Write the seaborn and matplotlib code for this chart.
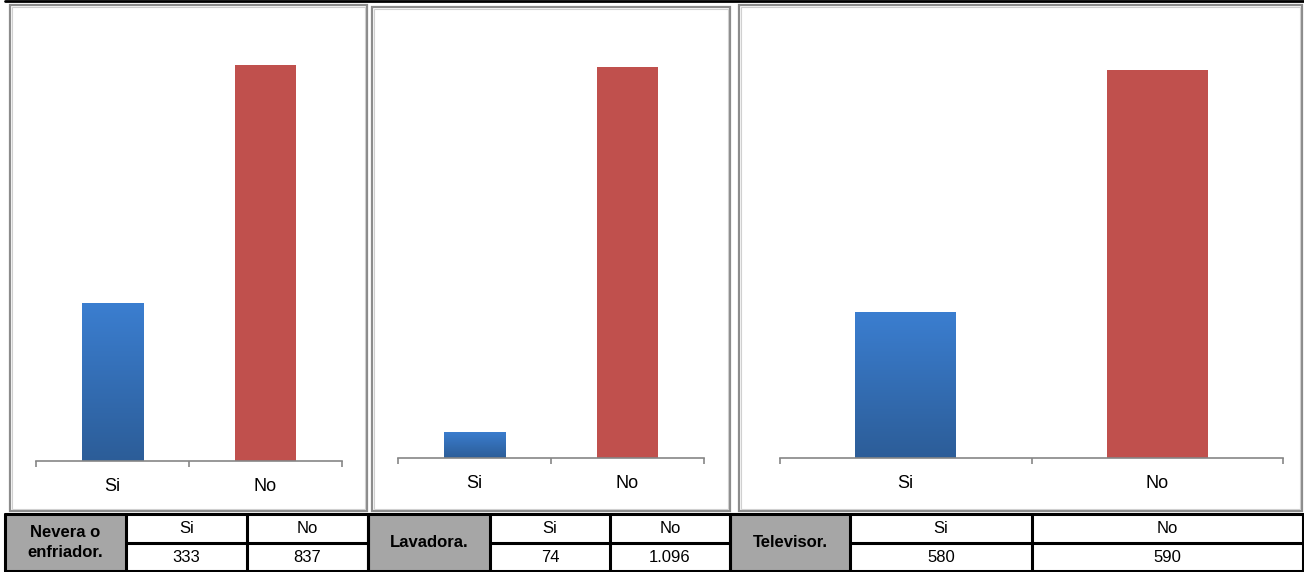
import seaborn as sns
import matplotlib.pyplot as plt
import pandas as pd
import numpy as np
from matplotlib.patches import Rectangle
from matplotlib.lines import Line2D

# Tenencia de electrodomesticos en los hogares (Si / No)
categories = ["Si", "No"]
item_labels = ["Nevera o\nenfriador.", "Lavadora.", "Televisor."]

nevera = [333, 837]
lavadora = [74, 1096]
televisor = [580, 590]
# the televisor chart in the source does not follow its own table, bars
televisor_bars = [222, 590]

bar_values = [nevera, lavadora, televisor_bars]
table_values = [nevera, lavadora, televisor]
y_max = [911, 1200, 651]

sns.set_style("white")
plt.rcParams['font.family'] = ['Liberation Sans', 'DejaVu Sans']
plt.rcParams['text.color'] = 'black'

W, H = 1304, 572
fig = plt.figure(figsize=(W / 100, H / 100), dpi=100)
fig.patch.set_facecolor("white")


def box(x0, y0, x1, y1):
    # pixel box (top-left origin) -> figure fraction rect
    return [x0 / W, 1 - y1 / H, (x1 - x0) / W, (y1 - y0) / H]


# panel frames and axes areas (pixels)
frames = [(10, 5, 367, 511), (372, 7, 730, 511), (739, 5, 1302, 511)]
plot_areas = [(36, 30, 342, 461), (398, 30, 704, 458), (780, 30, 1283, 458)]

blue_top, blue_bottom = np.array([59, 126, 208]) / 255, np.array([44, 93, 152]) / 255
red = "#c0504d"

for fr in frames:
    x0, y0, x1, y1 = fr
    fig.add_artist(Rectangle((x0 / W, 1 - y1 / H), (x1 - x0) / W, (y1 - y0) / H,
                             transform=fig.transFigure, fill=False,
                             edgecolor="#8c8c8c", lw=1.6))
    fig.add_artist(Rectangle(((x0 + 2) / W, 1 - (y1 - 2) / H), (x1 - x0 - 4) / W,
                             (y1 - y0 - 4) / H, transform=fig.transFigure,
                             fill=False, edgecolor="#d0d0d0", lw=0.8))

# black rule along the top
fig.add_artist(Line2D([5 / W, 1], [1 - 1.2 / H, 1 - 1.2 / H], transform=fig.transFigure,
                      color="black", lw=2))

for i, area in enumerate(plot_areas):
    ax = fig.add_axes(box(*area))
    df = pd.DataFrame({"Respuesta": categories, "Hogares": bar_values[i]})
    sns.barplot(data=df, x="Respuesta", y="Hogares", hue="Respuesta",
                palette=[blue_bottom, red], width=0.4, legend=False, ax=ax,
                saturation=1, linewidth=0)

    # vertical gradient on the "Si" bar
    p = ax.patches[0]
    bx, by = p.get_x(), p.get_y()
    bw, bh = p.get_width(), p.get_height()
    grad = np.linspace(0, 1, 256)[:, None, None]
    img = blue_top * grad + blue_bottom * (1 - grad)
    im = ax.imshow(img, extent=[bx, bx + bw, by, by + bh], origin="lower",
                   aspect="auto", zorder=p.get_zorder() + 0.1)
    im.set_clip_path(p)
    ax.set_xlim(-0.5, 1.5)
    ax.set_ylim(0, y_max[i])

    for s in ["top", "right", "left"]:
        ax.spines[s].set_visible(False)
    ax.spines["bottom"].set_color("#868686")
    ax.spines["bottom"].set_linewidth(1.2)
    ax.set_yticks([])
    ax.set_xlabel("")
    ax.set_ylabel("")
    ax.set_xticks([0, 1])
    ax.set_xticklabels(categories)
    ax.set_xticks([-0.5, 0.5, 1.5], minor=True)
    ax.tick_params(axis="x", which="major", bottom=True, length=0, pad=12,
                   labelsize=13, colors="black")
    ax.tick_params(axis="x", which="minor", bottom=True, length=4, width=1.2,
                   color="#868686", direction="out")
    ax.set_facecolor("none")

# data table under each chart
col_edges = [(5, 126, 247, 368), (368, 490, 610, 730), (730, 850, 1032, 1303)]
top, mid, bot = 514, 543, 571

for i, edges in enumerate(col_edges):
    lx0, lx1, sx, rx = edges
    fig.add_artist(Rectangle((lx0 / W, 1 - bot / H), (lx1 - lx0) / W, (bot - top) / H,
                             transform=fig.transFigure, facecolor="#a6a6a6",
                             edgecolor="none"))
    fig.text((lx0 + lx1) / 2 / W, 1 - (top + bot) / 2 / H, item_labels[i],
             ha="center", va="center", fontsize=12, fontweight="bold",
             linespacing=1.45, color="black")
    cells = [(lx1, sx), (sx, rx)]
    for j, (c0, c1) in enumerate(cells):
        cx = (c0 + c1) / 2 / W
        fig.text(cx, 1 - (top + mid) / 2 / H, categories[j], ha="center",
                 va="center", fontsize=12, color="black")
        val = f"{table_values[i][j]:,}".replace(",", ".")
        fig.text(cx, 1 - (mid + bot) / 2 / H, val, ha="center", va="center",
                 fontsize=12, color="black")
    # grid lines
    for x in edges:
        fig.add_artist(Line2D([x / W, x / W], [1 - top / H, 1 - bot / H],
                              transform=fig.transFigure, color="black", lw=2.2))
    for y in (top, bot):
        fig.add_artist(Line2D([lx0 / W, rx / W], [1 - y / H, 1 - y / H],
                              transform=fig.transFigure, color="black", lw=2.2))
    fig.add_artist(Line2D([lx1 / W, rx / W], [1 - mid / H, 1 - mid / H],
                          transform=fig.transFigure, color="black", lw=2.2))

fig.savefig("out.png", dpi=100, facecolor="white")
